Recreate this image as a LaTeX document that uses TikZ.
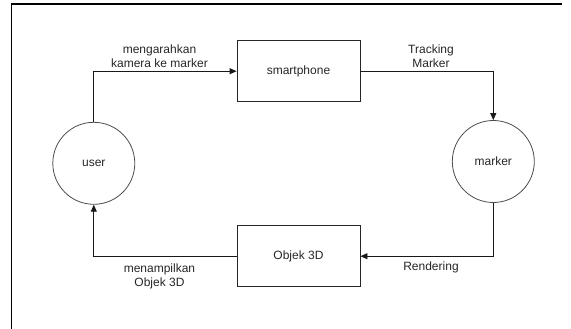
\documentclass[tikz,border=0pt]{standalone}
\usepackage{fontspec}
\setmainfont{Liberation Sans}
\usetikzlibrary{arrows.meta}
\begin{document}
\begin{tikzpicture}[x=1pt,y=-1pt,
  every node/.style={font=\fontsize{12}{14}\selectfont, text=black!85},
  procbox/.style={draw=black!85, line width=0.9pt, minimum width=123pt, minimum height=61pt, inner sep=0pt},
  actor/.style={circle, draw=black!70, line width=0.8pt, minimum size=82pt, inner sep=0pt},
  flow/.style={draw=black!90, line width=0.9pt, -{Triangle[length=7pt,width=6pt]}},
  lbl/.style={align=center, inner sep=0pt}]
  \useasboundingbox (0,0) rectangle (571,329);
  % frame edges
  \draw[line width=1.6pt] (11.5,329) -- (11.5,4.3) -- (562,4.3);

  % nodes
  \node[procbox] (smart) at (298.5,71.2) {smartphone};
  \node[procbox] (obj) at (298.5,256.2) {Objek 3D};
  \node[actor] (user) at (93.8,163.3) {user};
  \node[actor] (marker) at (493.3,161.5) {marker};

  % connectors
  \draw[flow] (user.north) |- (smart.west);
  \draw[flow] (smart.east) -| (marker.north);
  \draw[flow] (marker.south) |- (obj.east);
  \draw[flow] (obj.west) -| (user.south);

  % labels
  \node[lbl] (l1) at (159.5,56) {mengarahkan\\kamera ke marker};
  \node[lbl] (l2) at (431,56) {Tracking\\Marker};
  \node[lbl] (l3) at (431,267) {Rendering};
  \node[lbl] (l4) at (159.5,276.5) {menampilkan\\Objek 3D};
\end{tikzpicture}
\end{document}
